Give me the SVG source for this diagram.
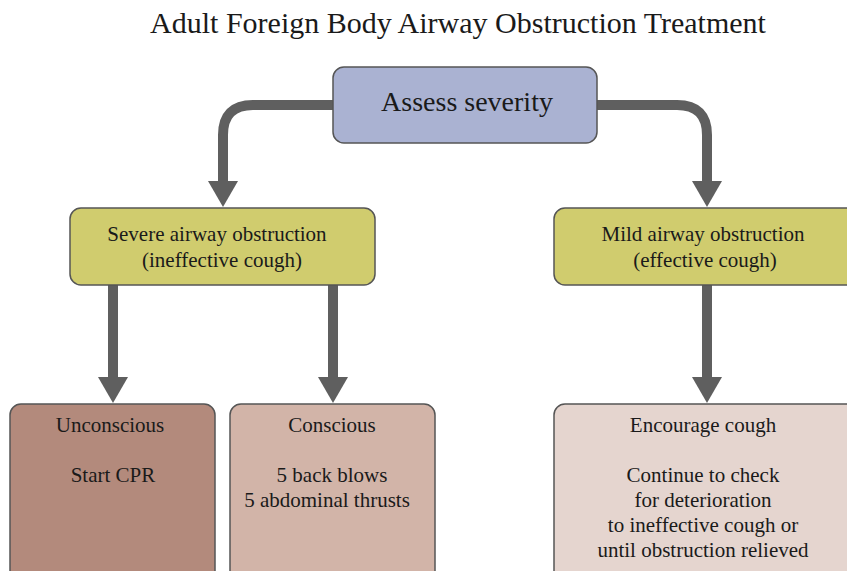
<svg xmlns="http://www.w3.org/2000/svg" width="847" height="571" viewBox="0 0 847 571">
<style>
text{font-family:"Liberation Serif","Times New Roman",serif;fill:#1a1a1a;text-anchor:middle}
.box{stroke:#555;stroke-width:1.5}
.t{font-size:21px}
.conn path{fill:none;stroke:#5f5f5f;stroke-width:10}
.conn polygon{fill:#5f5f5f}
</style>
<rect width="847" height="571" fill="#fff"/>
<text id="title" x="458" y="33" style="font-size:30px">Adult Foreign Body Airway Obstruction Treatment</text>
<g class="conn" id="connectors">
<path d="M333,105 H253 Q223,105 223,135 V183"/>
<polygon points="208,181 238,181 223,207"/>
<path d="M597,105 H677 Q707,105 707,135 V183"/>
<polygon points="692,181 722,181 707,207"/>
<path d="M113,285 V379"/>
<polygon points="98,377 128,377 113,403"/>
<path d="M333,285 V379"/>
<polygon points="318,377 348,377 333,403"/>
<path d="M707,285 V379"/>
<polygon points="692,377 722,377 707,403"/>
</g>
<g id="assess">
<rect class="box" x="333" y="67" width="264" height="76" rx="11" fill="#aab2d2"/>
<text x="467" y="111" style="font-size:28px">Assess severity</text>
</g>
<g id="severe">
<rect class="box" x="70" y="208" width="305" height="77" rx="11" fill="#d0cc6e"/>
<text class="t" x="217" y="241">Severe airway obstruction</text>
<text class="t" x="222" y="267">(ineffective cough)</text>
</g>
<g id="mild">
<rect class="box" x="554" y="208" width="310" height="77" rx="11" fill="#d0cc6e"/>
<text class="t" x="703" y="241">Mild airway obstruction</text>
<text class="t" x="705" y="267">(effective cough)</text>
</g>
<g id="unconscious">
<rect class="box" x="10" y="404" width="205" height="180" rx="11" fill="#b38a7c"/>
<text class="t" x="110" y="432">Unconscious</text>
<text class="t" x="113" y="482">Start CPR</text>
</g>
<g id="conscious">
<rect class="box" x="230" y="404" width="205" height="180" rx="11" fill="#d2b4a8"/>
<text class="t" x="332" y="432">Conscious</text>
<text class="t" x="332" y="482">5 back blows</text>
<text class="t" x="327" y="507">5 abdominal thrusts</text>
</g>
<g id="encourage">
<rect class="box" x="554" y="404" width="310" height="180" rx="11" fill="#e5d5cf"/>
<text class="t" x="703" y="432">Encourage cough</text>
<text class="t" x="703" y="482">Continue to check</text>
<text class="t" x="703" y="507">for deterioration</text>
<text class="t" x="703" y="532">to ineffective cough or</text>
<text class="t" x="703" y="557">until obstruction relieved</text>
</g>
</svg>
